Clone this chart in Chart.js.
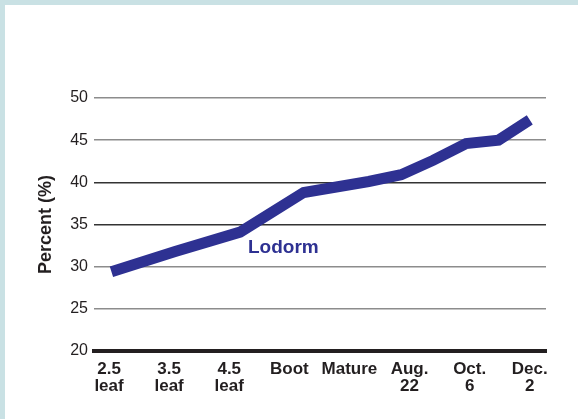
<!DOCTYPE html>
<html>
<head>
<meta charset="utf-8">
<script src="https://cdn.jsdelivr.net/npm/chart.js@4/dist/chart.umd.min.js"></script>
<style>
  html, body { margin: 0; padding: 0; background: #fff; }
  canvas { display: block; }
</style>
</head>
<body>
<canvas id="lineChart" width="578" height="419"></canvas>
<script>
// category labels along the bottom (one tick per label)
const xLabels = [
   ["2.5", "leaf"],
   ["3.5", "leaf"],
   ["4.5", "leaf"],
   "Boot",
   "Mature",
   ["Aug.", "22"],
   ["Oct.", "6"],
   ["Dec.", "2"],
];

// line vertices, x given in label-index units (0 = "2.5 leaf")
const pointX = [0.04, 1.1, 2.18, 3.24, 4.32, 4.86, 5.39, 5.94, 6.48, 7.0];
const lodormValues = [29.4, 31.8, 34.1, 38.8, 40.1, 40.9, 42.6, 44.6, 45.0, 47.4];

const yTicks = [20, 25, 30, 35, 40, 45, 50];

const seriesName = "Lodorm";
const lineColor = "#2e3192";
const textColor = "#231f20";
const fontFamily = "'Liberation Sans', Arial, sans-serif";

// white page with the pale blue frame at top and left
const framePlugin = {
   id: "frame",
   beforeDraw(chart) {
      const ctx = chart.ctx;
      ctx.save();
      ctx.fillStyle = "#ffffff";
      ctx.fillRect(0, 0, chart.width, chart.height);
      ctx.fillStyle = "#c9e1e4";
      ctx.fillRect(0, 0, chart.width, 5);
      ctx.fillRect(0, 0, 5, chart.height);
      ctx.restore();
   },
};

// series name written inside the plot
const seriesLabelPlugin = {
   id: "seriesLabel",
   afterDatasetsDraw(chart) {
      const ctx = chart.ctx;
      const x = chart.scales.x.getPixelForValue(2.9);
      const y = chart.scales.y.getPixelForValue(32.3);
      ctx.save();
      ctx.font = "bold 19px " + fontFamily;
      ctx.fillStyle = lineColor;
      ctx.textAlign = "center";
      ctx.textBaseline = "middle";
      ctx.fillText(seriesName, x, y);
      ctx.restore();
   },
};

const data = pointX.map((x, i) => ({ x: x, y: lodormValues[i] }));

const ctx = document.getElementById("lineChart").getContext("2d");
new Chart(ctx, {
   type: "line",
   data: {
      datasets: [
         {
            label: seriesName,
            data: data,
            borderColor: lineColor,
            borderWidth: 11,
            borderCapStyle: "butt",
            borderJoinStyle: "miter",
            tension: 0,
            pointRadius: 0,
            fill: false,
         },
      ],
   },
   options: {
      responsive: false,
      animation: false,
      devicePixelRatio: 1,
      layout: {
         padding: { left: 0, right: 32, top: 98, bottom: 0 },
      },
      plugins: {
         legend: { display: false },
         tooltip: { enabled: false },
      },
      scales: {
         x: {
            type: "linear",
            min: -0.25,
            max: 7.27,
            afterFit(scale) {
               scale.height = 68;
            },
            afterBuildTicks(scale) {
               scale.ticks = xLabels.map((_, i) => ({ value: i }));
            },
            grid: { display: false, drawTicks: false },
            border: { display: true, color: "#231f20", width: 4 },
            ticks: {
               autoSkip: false,
               maxRotation: 0,
               padding: 10,
               color: textColor,
               font: { family: fontFamily, size: 17, weight: "bold", lineHeight: 1.0 },
               callback: (value) => xLabels[Math.round(value)],
            },
         },
         y: {
            min: 20,
            max: 50,
            afterFit(scale) {
               scale.width = 94;
            },
            afterBuildTicks(scale) {
               scale.ticks = yTicks.map((v) => ({ value: v }));
            },
            grid: {
               drawTicks: false,
               lineWidth: 1.5,
               color: (c) => {
                  const v = c.tick ? c.tick.value : null;
                  if (v === 20) return "rgba(0,0,0,0)";
                  if (v === 35 || v === 40) return "#333333";
                  return "#8c8c8c";
               },
            },
            border: { display: false },
            ticks: {
               padding: 6,
               color: textColor,
               font: { family: fontFamily, size: 16 },
            },
            title: {
               display: true,
               text: "Percent (%)",
               color: textColor,
               padding: { top: 35, bottom: 0 },
               font: { family: fontFamily, size: 18, weight: "bold" },
            },
         },
      },
   },
   plugins: [framePlugin, seriesLabelPlugin],
});
</script>
</body>
</html>
